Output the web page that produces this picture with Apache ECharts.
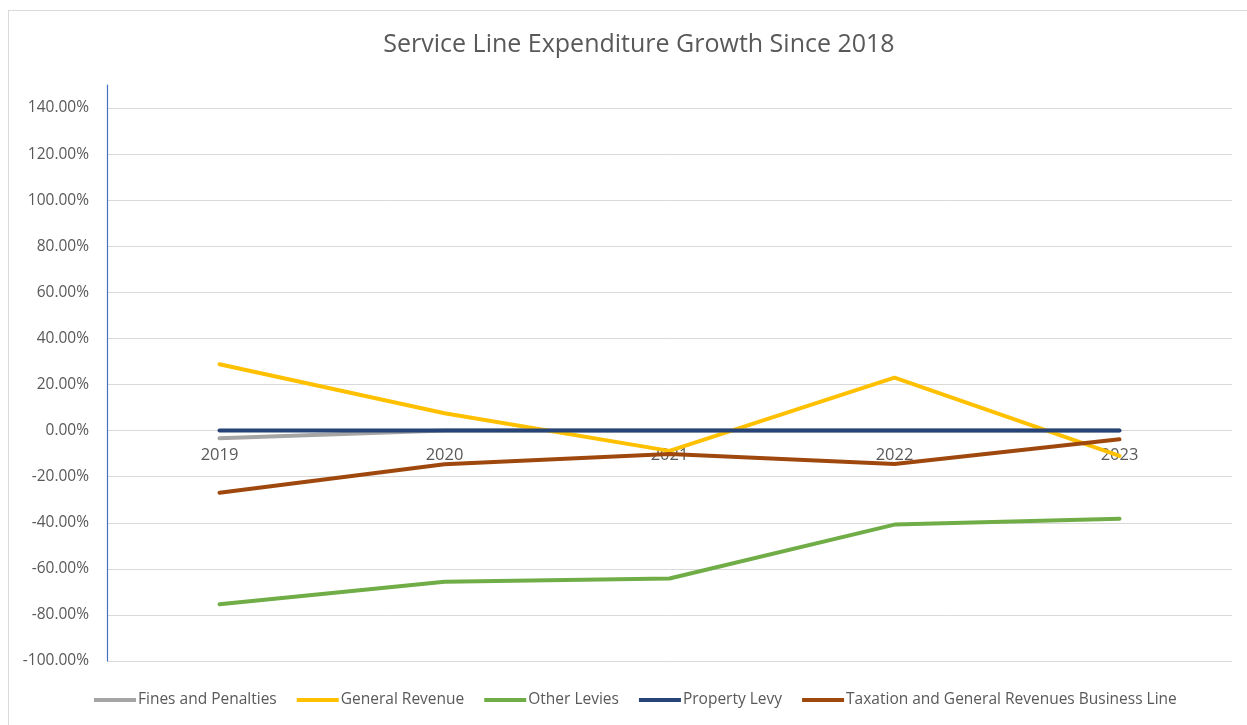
<!DOCTYPE html>
<html>
<head>
<meta charset="utf-8">
<script src="https://cdn.jsdelivr.net/npm/echarts@6/dist/echarts.min.js"></script>
<style>
html,body{margin:0;padding:0;background:#fff;}
#frame{position:absolute;left:8px;top:10px;width:1245px;height:720px;border:1px solid #d9d9d9;box-sizing:border-box;}
#chart{position:absolute;left:0;top:0;width:1247px;height:725px;}
</style>
</head>
<body>
<div id="frame"></div>
<div id="chart"></div>
<script>
const categories = ['2019', '2020', '2021', '2022', '2023'];
const finesAndPenalties = [-3.3, 0, 0, 0, 0];
const generalRevenue = [28.8, 7.5, -8.8, 23.0, -11.0];
const otherLevies = [-75.4, -65.6, -64.2, -40.8, -38.3];
const propertyLevy = [0, 0, 0, 0, 0];
const taxationBusinessLine = [-27.0, -14.6, -10.2, -14.5, -3.8];
const seriesNames = ['Fines and Penalties', 'General Revenue', 'Other Levies', 'Property Levy', 'Taxation and General Revenues Business Line'];
const seriesColors = ['#a5a5a5', '#ffc000', '#70ad47', '#264478', '#9e480e'];
const seriesData = [finesAndPenalties, generalRevenue, otherLevies, propertyLevy, taxationBusinessLine];
const yMin = -100, yMax = 150, yStep = 20;

const W = 1247, H = 725;
const gridTop = 85, gridBottom = 64, gridLeft = 107, gridRight = 15;
const plotH = H - gridTop - gridBottom;
// offset x-axis labels so they sit just under the zero line (as in Excel)
const zeroFromBottom = plotH * (0 - yMin) / (yMax - yMin);

const chart = echarts.init(document.getElementById('chart'), null, {renderer: 'canvas'});
const font = '"Open Sans", "Noto Sans", sans-serif';
chart.setOption({
  animation: false,
  backgroundColor: 'transparent',
  title: {
    text: 'Service Line Expenditure Growth Since 2018',
    left: 634,
    textAlign: 'center',
    top: 27,
    textStyle: {color: '#595959', fontSize: 25, fontWeight: 'normal', fontFamily: font}
  },
  legend: {
    bottom: 12,
    left: 89,
    icon: 'rect',
    itemWidth: 42,
    itemHeight: 4,
    itemGap: 20,
    textStyle: {color: '#595959', fontSize: 15.5, fontFamily: font, padding: [0, 0, 0, -3]},
    data: seriesNames
  },
  grid: {left: gridLeft, right: gridRight, top: gridTop, bottom: gridBottom, containLabel: false},
  xAxis: {
    type: 'category',
    data: categories,
    boundaryGap: true,
    offset: -zeroFromBottom,
    axisLine: {show: false, onZero: false},
    axisTick: {show: false},
    axisLabel: {color: '#595959', fontSize: 16.5, fontFamily: font, margin: 16},
    splitLine: {show: false}
  },
  yAxis: {
    type: 'value',
    min: yMin,
    max: yMax,
    interval: yStep,
    axisLine: {show: true, lineStyle: {color: '#4472c4', width: 1.2}},
    axisTick: {show: false},
    axisLabel: {
      color: '#595959', fontSize: 15.5, fontFamily: font, margin: 18,
      showMaxLabel: false,
      formatter: v => v.toFixed(2) + '%'
    },
    splitLine: {show: true, showMaxLine: false, lineStyle: {color: '#d9d9d9', width: 1}}
  },
  series: seriesNames.map((name, i) => ({
    name: name,
    type: 'line',
    data: seriesData[i],
    symbol: 'none',
    smooth: false,
    lineStyle: {color: seriesColors[i], width: 4, cap: 'round'},
    itemStyle: {color: seriesColors[i]},
    z: 2 + i
  }))
});
</script>
</body>
</html>
